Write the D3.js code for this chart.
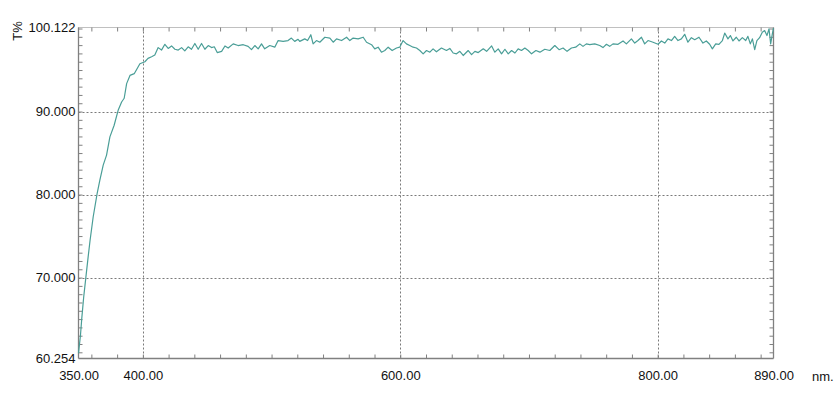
<!DOCTYPE html>
<html><head><meta charset="utf-8">
<script src="https://cdn.jsdelivr.net/npm/d3@7"></script>
<style>
body{margin:0;background:#fff;}
text{font-family:Arial,"Liberation Sans",sans-serif;}
</style></head>
<body><svg id="c" width="836" height="410"></svg>
<script>
const wavelength = [350,351.5,352.5,354,355.7,357.5,359,361.4,364.5,366.6,369.2,371.8,374.4,377.7,380.8,383.5,385.5,387.4,390,393.3,397.7,401.6,404,406.8,409.3,411.9,414.5,417.1,419.7,422.3,424.9,427.5,430.1,432.6,435.2,437.8,440.4,443,445.6,448.2,450.8,453.4,455.5,457.8,461.2,463.8,466.3,470.2,474,478,481.8,484.4,487,489.6,492.2,494.7,498.6,502.5,505.1,509,512.8,515.4,518,520.6,521.9,525.8,528,530.5,532.3,534.9,537.5,541.4,545.3,547.9,550.5,554.4,558.3,560.8,563.4,567.3,571.2,573.8,577.7,580.2,582.8,585.4,588,590.6,593.7,597.1,599.6,602.2,604.8,607.4,610,612.6,615.2,617.8,620.4,623,625.5,628.1,632,635.9,638.5,641.1,643.7,646.3,648.9,652.8,655.4,658,660.6,664.5,667.1,671,673.5,676.1,678.7,681.3,683.9,686.5,689.1,691.6,694.2,696.8,699.4,702,705.4,708.5,712.3,716.2,720.1,723.4,726.5,729.6,733,736.3,739.5,742,744.6,747.2,751.1,755,757.5,760.2,762.7,765.3,769.2,773.1,775.7,779.6,782.2,784.7,787.4,789.9,792.5,796.4,800.3,802.9,805.5,808,810.7,813.2,815.8,818.4,821,823.5,826.2,828.8,832.1,835.2,837.8,840.4,842.5,845.1,847.6,850.3,852.1,854.6,856.5,858.5,861.1,863.2,865.8,868.4,870.1,872,873.6,875.4,877.1,879.2,881.3,883.1,884.9,886.5,887.8,889.1,890];
const transmittance = [60.9,63.0,65.0,67.6,70.0,72.5,74.5,77.3,80.15,81.75,83.55,84.75,86.95,88.35,90.15,91.15,91.6,93.36,94.35,94.56,95.76,96.0,96.4,96.6,96.8,97.7,97.4,98.1,97.6,97.9,97.5,97.4,97.7,97.3,97.8,97.5,98.2,97.5,98.2,97.5,97.95,97.7,97.8,97.1,97.25,97.9,97.65,98.15,97.95,98.05,97.85,97.45,97.95,97.55,98.15,97.55,97.95,97.75,98.55,98.45,98.55,98.85,98.45,98.7,98.45,98.75,98.55,99.25,98.15,98.55,98.35,98.95,98.85,98.35,98.75,98.55,98.95,98.55,98.85,98.75,98.95,98.35,98.05,97.55,97.75,97.15,97.35,97.75,97.35,97.65,97.75,98.55,98.15,97.95,97.75,97.65,97.35,96.95,97.35,97.15,97.55,97.2,97.65,97.35,97.6,97.05,96.95,97.25,96.75,97.35,96.85,97.25,97.1,97.55,97.25,97.9,97.15,97.55,96.95,97.5,96.95,97.35,97.05,97.55,97.35,97.65,97.35,96.95,97.35,97.15,97.5,97.35,97.95,97.45,97.65,97.25,97.65,97.75,98.15,97.85,98.15,98.05,98.15,97.95,97.7,98.1,97.85,98.15,98.1,98.5,98.15,98.75,98.25,98.55,98.95,98.15,98.55,98.35,98.1,98.5,98.25,98.75,98.55,99.05,98.55,98.75,99.3,98.35,98.9,98.65,98.95,98.25,98.5,98.1,97.55,98.15,98.1,98.55,99.45,98.75,99.15,98.5,98.95,98.5,98.9,98.55,99.05,98.15,98.75,97.45,98.55,98.9,99.55,99.75,99.15,99.95,98.15,99.35,100.05];
const xLabels = [350,400,600,800,890];
const yLabels = [60.254,70,80,90,100.122];
const xGrid = [400,600,800];
const yGrid = [70,80,90];
const xMinor = d3.range(360,890,20);
const yMinor = d3.range(61,101,1);

const svg = d3.select("#c");
const L=78.5,R=773.5,T=27.5,B=358.5;
const x = d3.scaleLinear().domain([350,890]).range([L,R]);
const y = d3.scaleLinear().domain([60.254,100.122]).range([B,T]);
const axisCol="#808080", gridCol="#7a7a7a";

// grid
svg.append("g").selectAll("line").data(xGrid).join("line")
 .attr("x1",d=>Math.round(x(d))+0.5).attr("x2",d=>Math.round(x(d))+0.5).attr("y1",T).attr("y2",B)
 .attr("stroke",gridCol).attr("stroke-width",1).attr("stroke-dasharray","2,2");
svg.append("g").selectAll("line").data(yGrid).join("line")
 .attr("y1",d=>Math.round(y(d))+0.5).attr("y2",d=>Math.round(y(d))+0.5).attr("x1",L).attr("x2",R)
 .attr("stroke",gridCol).attr("stroke-width",1).attr("stroke-dasharray","2,2");

function styleAxis(g){g.select(".domain").remove();g.selectAll(".tick line").attr("stroke",axisCol);}
// minor ticks
svg.append("g").attr("transform",`translate(0,${B})`).call(d3.axisBottom(x).tickValues(xMinor).tickSize(-4).tickFormat("")).call(styleAxis);
svg.append("g").attr("transform",`translate(0,${T})`).call(d3.axisTop(x).tickValues(xMinor).tickSize(-4).tickFormat("")).call(styleAxis);
svg.append("g").attr("transform",`translate(${L},0)`).call(d3.axisLeft(y).tickValues(yMinor).tickSize(-4).tickFormat("")).call(styleAxis);
svg.append("g").attr("transform",`translate(${R},0)`).call(d3.axisRight(y).tickValues(yMinor).tickSize(-4).tickFormat("")).call(styleAxis);

// frame
svg.append("line").attr("x1",L).attr("x2",R).attr("y1",B).attr("y2",B).attr("stroke",axisCol).attr("stroke-width",1.3);
svg.append("line").attr("x1",L).attr("x2",L).attr("y1",T).attr("y2",B).attr("stroke",axisCol).attr("stroke-width",1.3);
svg.append("line").attr("x1",R).attr("x2",R).attr("y1",T).attr("y2",B).attr("stroke",axisCol).attr("stroke-width",1.3);
svg.append("line").attr("x1",L).attr("x2",R).attr("y1",T).attr("y2",T).attr("stroke",axisCol).attr("stroke-width",1).attr("stroke-dasharray","1,1");

// labels
const xa = svg.append("g").attr("transform",`translate(0,${B})`)
 .call(d3.axisBottom(x).tickValues(xLabels).tickSize(0).tickPadding(12).tickFormat(d3.format(".2f")));
xa.select(".domain").remove();
xa.selectAll("text").attr("font-size",13).attr("fill","#111").attr("font-family","Arial, 'Liberation Sans', sans-serif");
const ya = svg.append("g").attr("transform",`translate(${L},0)`)
 .call(d3.axisLeft(y).tickValues(yLabels).tickSize(0).tickPadding(3).tickFormat(d3.format(".3f")));
ya.select(".domain").remove();
ya.selectAll("text").attr("font-size",13).attr("fill","#111").attr("font-family","Arial, 'Liberation Sans', sans-serif");

svg.append("text").attr("x",812).attr("y",B+22).attr("font-size",13).attr("fill","#111").text("nm.");
svg.append("text").attr("transform","translate(22,31) rotate(-90)").attr("text-anchor","middle")
 .attr("font-size",13).attr("fill","#111").text("T%");

// curve
const pts = wavelength.map((w,i)=>[w,transmittance[i]]);
svg.append("path").datum(pts)
 .attr("d",d3.line().x(d=>x(d[0])).y(d=>y(d[1])))
 .attr("fill","none").attr("stroke","#4a9e97").attr("stroke-width",1.2).attr("stroke-linejoin","round");
</script></body></html>
